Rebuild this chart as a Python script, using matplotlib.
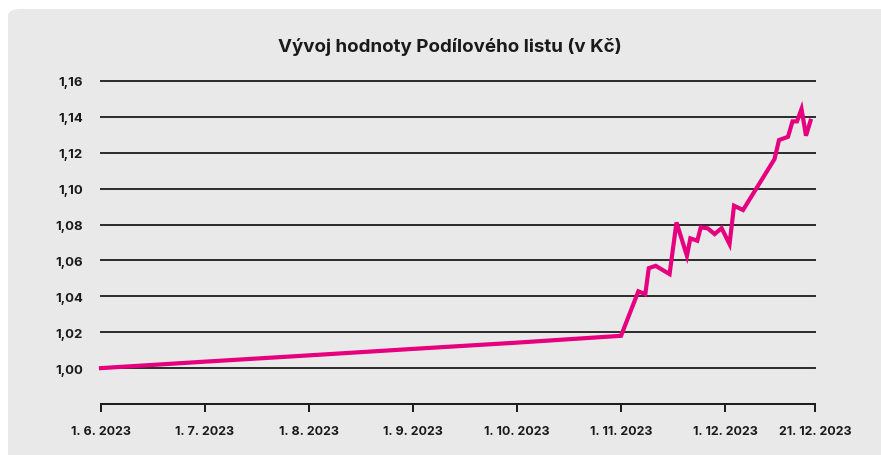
import matplotlib
matplotlib.use('Agg')
import matplotlib.pyplot as plt
import numpy as np
from matplotlib.patches import FancyBboxPatch

plt.rcParams['font.family'] = ['Inter', 'DejaVu Sans']

# Data: dates of the NAV points and values (CZK)
dates = ['2023-06-01', '2023-07-01', '2023-08-01', '2023-09-01', '2023-10-01',
         '2023-11-01', '2023-11-06', '2023-11-08', '2023-11-09', '2023-11-11',
         '2023-11-15', '2023-11-17', '2023-11-20', '2023-11-21', '2023-11-23',
         '2023-11-24', '2023-11-26', '2023-11-28', '2023-11-30', '2023-12-02',
         '2023-12-03', '2023-12-05', '2023-12-12', '2023-12-13', '2023-12-15',
         '2023-12-16', '2023-12-17', '2023-12-18', '2023-12-19', '2023-12-20']
values = [1.0000, 1.0036, 1.0071, 1.0107, 1.0142,
          1.0180, 1.0428, 1.0412, 1.0557, 1.0570,
          1.0524, 1.0812, 1.0626, 1.0723, 1.0710,
          1.0784, 1.0779, 1.0747, 1.0780, 1.0691,
          1.0905, 1.0881, 1.1165, 1.1271, 1.1289,
          1.1375, 1.1375, 1.1444, 1.1295, 1.1378]

tick_dates = ['2023-06-01', '2023-07-01', '2023-08-01', '2023-09-01',
              '2023-10-01', '2023-11-01', '2023-12-01', '2023-12-21']
tick_labels = ['1. 6. 2023', '1. 7. 2023', '1. 8. 2023', '1. 9. 2023',
               '1. 10. 2023', '1. 11. 2023', '1. 12. 2023', '21. 12. 2023']
y_ticks = [1.00, 1.02, 1.04, 1.06, 1.08, 1.10, 1.12, 1.14, 1.16]

# the chart spaces its date ticks evenly, last one closer
tick_pos = [0, 1, 2, 3, 4, 5, 6, 6.865]
d_num = np.array(dates, dtype='datetime64[D]').astype(float)
t_num = np.array(tick_dates, dtype='datetime64[D]').astype(float)
x = np.interp(d_num, t_num, tick_pos)

fig = plt.figure(figsize=(8.81, 4.56), dpi=100)
fig.patch.set_facecolor('white')
bg = FancyBboxPatch((8 / 881, -0.1), 1.2, 1.1 - 10 / 456,
                    boxstyle='round,pad=0,rounding_size=0.015',
                    transform=fig.transFigure, facecolor='#e9e9e9',
                    edgecolor='none', zorder=-10)
fig.patches.append(bg)

ax = fig.add_axes([101 / 881, 51 / 456, 714 / 881, 323 / 456])
ax.set_zorder(1)
ax.set_facecolor('none')

ax.plot(x, values, color='#e6007e', lw=3.0, solid_joinstyle='miter', zorder=3,
        clip_on=False)

ax.set_xlim(0, tick_pos[-1])
ax.set_ylim(0.98, 1.16)
ax.set_yticks(y_ticks)
ax.set_yticklabels([f'{v:.2f}'.replace('.', ',') for v in y_ticks])
ax.set_xticks(tick_pos)
ax.set_xticklabels(tick_labels)

for v in y_ticks:
    ax.axhline(v, color='#2a2a2a', lw=1.4, zorder=1, clip_on=False)

for s in ['top', 'right', 'left']:
    ax.spines[s].set_visible(False)
ax.spines['bottom'].set_color('#1a1a1a')
ax.spines['bottom'].set_linewidth(1.4)

ax.tick_params(axis='y', length=0, pad=13, labelsize=9.5, labelcolor='#1a1a1a')
ax.tick_params(axis='x', length=6, width=1.4, color='#1a1a1a', pad=9,
               labelsize=9, labelcolor='#1a1a1a')
for lab in ax.get_xticklabels() + ax.get_yticklabels():
    lab.set_fontweight('bold')

fig.text(450 / 881, 1 - 47 / 456, 'Vývoj hodnoty Podílového listu (v Kč)',
         ha='center', va='center', fontsize=13.5, fontweight='bold',
         color='#1a1a1a')

fig.savefig('out.png', dpi=100, facecolor=fig.get_facecolor())
